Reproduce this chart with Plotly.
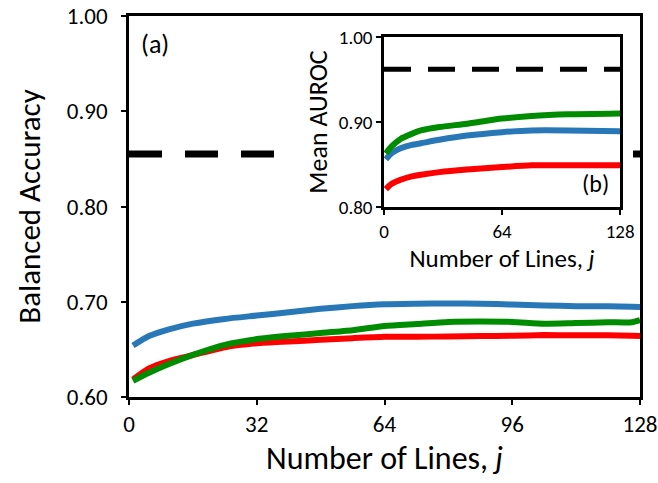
import plotly.graph_objects as go

# ---- main panel (a): balanced accuracy vs number of lines ----
lines_main = [1, 5, 10, 16, 24, 32, 40, 48, 56, 64, 72, 80, 88, 96, 104, 112, 120, 126, 128]
ba_blue = [0.654, 0.664, 0.671, 0.677, 0.682, 0.6855, 0.689, 0.6926, 0.6954, 0.6973,
           0.6979, 0.6982, 0.698, 0.697, 0.6961, 0.6954, 0.6954, 0.6948, 0.6946]
ba_green = [0.617, 0.6254, 0.6346, 0.6442, 0.6548, 0.6608, 0.6643, 0.6671, 0.670, 0.6746,
            0.6767, 0.6788, 0.6792, 0.6788, 0.677, 0.6777, 0.6784, 0.6785, 0.6806]
ba_red = [0.6184, 0.630, 0.6378, 0.644, 0.6523, 0.6565, 0.6583, 0.660, 0.6618, 0.6632,
          0.6632, 0.6636, 0.664, 0.6643, 0.665, 0.6647, 0.6647, 0.6642, 0.664]
ba_baseline = 0.855
main_x_ticks = [0, 32, 64, 96, 128]
main_y_ticks = [0.60, 0.70, 0.80, 0.90, 1.00]

# ---- inset panel (b): mean AUROC vs number of lines ----
lines_inset = [1, 4, 9, 15, 20, 30, 45, 64, 80, 100, 128]
auroc_green = [0.863, 0.871, 0.880, 0.886, 0.890, 0.894, 0.898, 0.904, 0.907, 0.909, 0.910]
auroc_blue = [0.856, 0.863, 0.869, 0.873, 0.875, 0.879, 0.884, 0.888, 0.890, 0.890, 0.889]
auroc_red = [0.821, 0.827, 0.832, 0.836, 0.838, 0.841, 0.844, 0.847, 0.849, 0.849, 0.849]
auroc_baseline = 0.962
inset_x_ticks = [0, 64, 128]
inset_y_ticks = [0.80, 0.90, 1.00]

BLUE = "#2878b8"
GREEN = "#008c00"
RED = "#ff0000"
FONT = "Carlito, Lato, sans-serif"

X_RANGE = [0, 128]
Y_RANGE = [0.6, 1.0]

fig = go.Figure()

for ys, col in [(ba_red, RED), (ba_green, GREEN), (ba_blue, BLUE)]:
    fig.add_trace(go.Scatter(x=lines_main, y=ys, mode="lines",
                             line=dict(color=col, width=6, shape="spline", smoothing=0.6),
                             xaxis="x", yaxis="y", showlegend=False, hoverinfo="skip"))

fig.add_trace(go.Scatter(x=[inset_x_ticks[0], inset_x_ticks[-1]], y=[auroc_baseline, auroc_baseline],
                         mode="lines", line=dict(color="black", width=5, dash="27px,17px"),
                         xaxis="x2", yaxis="y2", showlegend=False, hoverinfo="skip"))
for ys, col in [(auroc_red, RED), (auroc_blue, BLUE), (auroc_green, GREEN)]:
    fig.add_trace(go.Scatter(x=lines_inset, y=ys, mode="lines",
                             line=dict(color=col, width=6, shape="spline", smoothing=0.6),
                             xaxis="x2", yaxis="y2", showlegend=False, hoverinfo="skip"))

# main baseline (axis-referenced shape so the inset's white backing can mask it)
fig.add_shape(type="line", xref="x", yref="y", x0=main_x_ticks[0], x1=main_x_ticks[-1],
              y0=ba_baseline, y1=ba_baseline, layer="below",
              line=dict(color="black", width=7, dash="33px,23px"))


def fx(f):
    return X_RANGE[0] + f * (X_RANGE[1] - X_RANGE[0])


def fy(f):
    return Y_RANGE[0] + f * (Y_RANGE[1] - Y_RANGE[0])


# white backing of the inset chart area (same subplot layer, drawn after the baseline)
fig.add_shape(type="rect", xref="x", yref="y", x0=fx(0.321), x1=fx(0.9726), y0=fy(0.339), y1=fy(0.9895),
              layer="below", line=dict(width=0), fillcolor="white")

axis_common = dict(showline=True, linecolor="black", linewidth=2.5, mirror=True,
                   ticks="outside", ticklen=5, tickwidth=2, tickcolor="black",
                   showgrid=False, zeroline=False, automargin=False, ticklabeloverflow="allow")

fig.update_layout(
    width=658, height=483,
    margin=dict(l=129, r=18, t=16, b=86, autoexpand=False),
    paper_bgcolor="white", plot_bgcolor="white",
    font=dict(family=FONT, color="black"),
    xaxis=dict(axis_common, domain=[0, 1], range=X_RANGE, tickvals=main_x_ticks,
               tickfont=dict(size=23),
               title=dict(text="Number of Lines, <i>j</i>", font=dict(size=32), standoff=10)),
    yaxis=dict(axis_common, domain=[0, 1], range=Y_RANGE, tickvals=main_y_ticks,
               tickformat=".2f", tickfont=dict(size=23), ticklabelstandoff=9,
               title=dict(text="Balanced Accuracy", font=dict(size=31), standoff=18)),
    xaxis2=dict(axis_common, domain=[0.499, 0.961], range=[0, 128], tickvals=inset_x_ticks,
                anchor="y2", tickfont=dict(size=19),
                title=dict(text="Number of Lines, <i>j</i>", font=dict(size=25), standoff=0)),
    yaxis2=dict(axis_common, domain=[0.4987, 0.945], range=[0.8, 1.0], tickvals=inset_y_ticks,
                anchor="x2", tickformat=".2f", tickfont=dict(size=19),
                title=dict(text="Mean AUROC", font=dict(size=26), standoff=4)),
    annotations=[
        dict(text="(a)", xref="paper", yref="paper", x=0.02, y=0.975, xanchor="left", yanchor="top",
             showarrow=False, font=dict(size=26)),
        dict(text="(b)", xref="x2 domain", yref="y2 domain", x=0.96, y=0.04,
             xanchor="right", yanchor="bottom", showarrow=False, font=dict(size=24)),
    ],
)

post = """
document.documentElement.style.margin='0';
document.documentElement.style.overflow='hidden';
document.body.style.margin='0';
document.body.style.overflow='hidden';
var gd=document.getElementById('{plot_id}');
gd.style.position='fixed'; gd.style.left='0px'; gd.style.top='0px';
"""

fig.write_html("out.html", post_script=post, config={"displayModeBar": False})
